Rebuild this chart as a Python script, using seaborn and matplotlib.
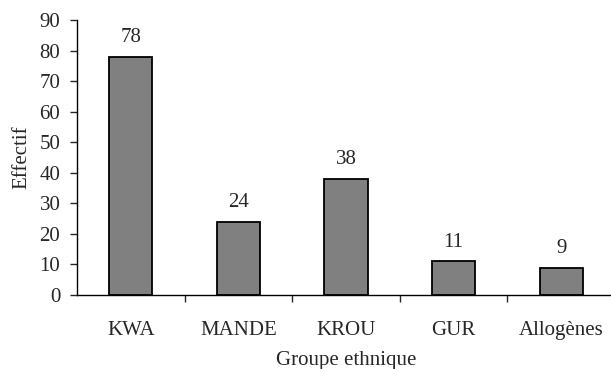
import matplotlib
matplotlib.use("Agg")
import matplotlib.pyplot as plt
import seaborn as sns
from matplotlib.ticker import FixedLocator

# données
groupes = ["KWA", "MANDE", "KROU", "GUR", "Allogènes"]
effectifs = [78, 24, 38, 11, 9]

sns.set_style("white")
plt.rcParams["font.family"] = ["Liberation Serif", "DejaVu Serif"]
fs = 15

fig = plt.figure(figsize=(6.11, 3.69), dpi=100)
ax = fig.add_axes([77 / 611, 74 / 369, 538 / 611, 275 / 369])

sns.barplot(x=groupes, y=effectifs, color="#808080", saturation=1,
            edgecolor="black", linewidth=1.3, width=0.4, ax=ax)

for i, v in enumerate(effectifs):
    ax.annotate(str(v), (i, v), xytext=(0, 7), textcoords="offset points",
                ha="center", va="bottom", fontsize=fs)

ax.set_ylim(0, 90)
ax.set_xlim(-0.5, 4.5)
ax.set_yticks(range(0, 91, 10))
ax.tick_params(axis="y", direction="out", length=5, width=1, labelsize=fs,
               left=True, pad=7)
ax.tick_params(axis="x", which="major", length=0, labelsize=fs, pad=19)
ax.xaxis.set_minor_locator(FixedLocator([0.5, 1.5, 2.5, 3.5]))
ax.tick_params(axis="x", which="minor", direction="out", length=5, width=1,
               bottom=True)

ax.set_xlabel("Groupe ethnique", fontsize=fs, labelpad=8)
ax.set_ylabel("Effectif", fontsize=fs, labelpad=6)

sns.despine(ax=ax)
for s in ["left", "bottom"]:
    ax.spines[s].set_color("black")
    ax.spines[s].set_linewidth(1)

fig.savefig("out.png", dpi=100)
